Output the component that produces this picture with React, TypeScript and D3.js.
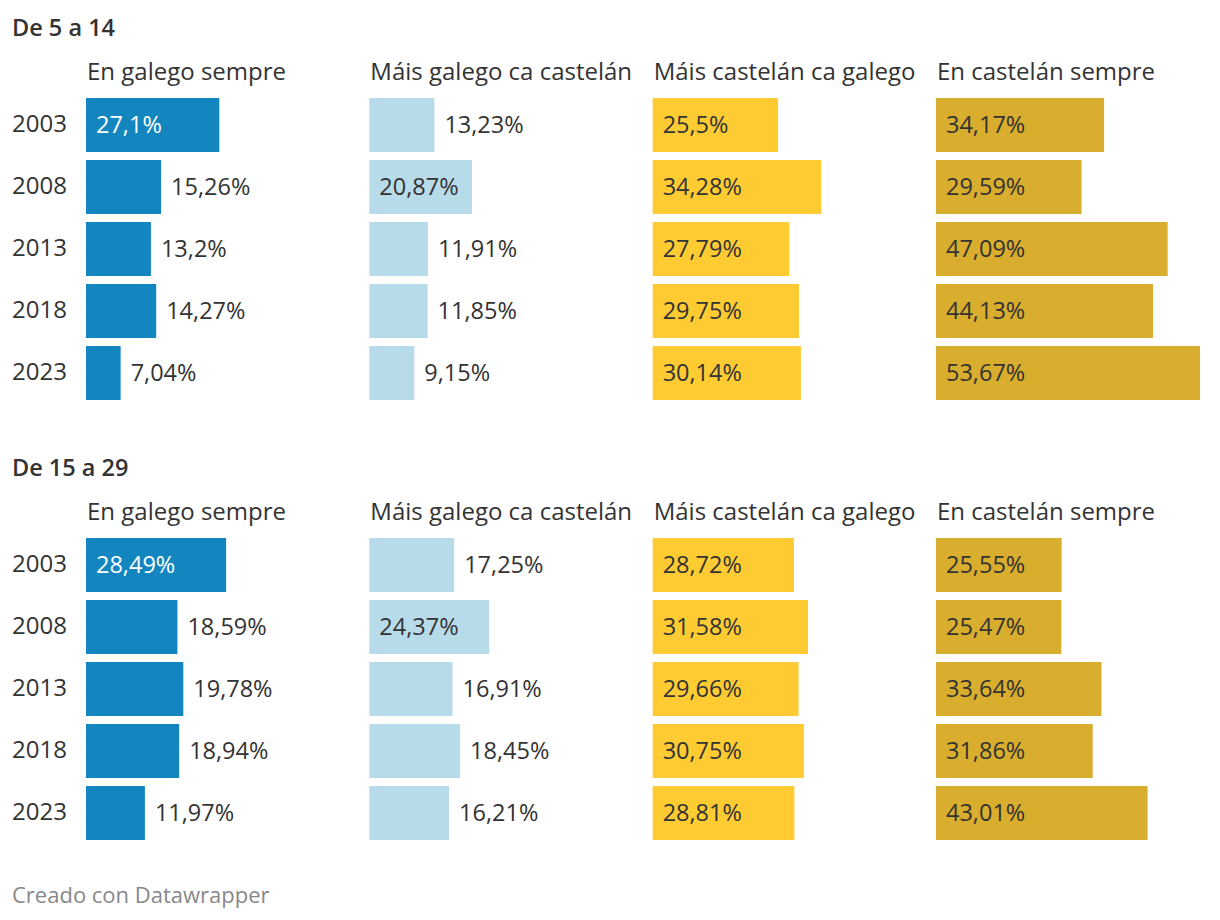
import React from 'react';
import * as d3 from 'd3';

const years = ['2003', '2008', '2013', '2018', '2023'];
const categories = ['En galego sempre', 'Máis galego ca castelán', 'Máis castelán ca galego', 'En castelán sempre'];
const groups = ['De 5 a 14', 'De 15 a 29'];

// values per group, per category, per year
const young = [
    [27.1, 15.26, 13.2, 14.27, 7.04],
    [13.23, 20.87, 11.91, 11.85, 9.15],
    [25.5, 34.28, 27.79, 29.75, 30.14],
    [34.17, 29.59, 47.09, 44.13, 53.67],
];
const older = [
    [28.49, 18.59, 19.78, 18.94, 11.97],
    [17.25, 24.37, 16.91, 18.45, 16.21],
    [28.72, 31.58, 29.66, 30.75, 28.81],
    [25.55, 25.47, 33.64, 31.86, 43.01],
];
const groupValues = [young, older];

const colors = ['#1386c0', '#b8dbea', '#fecb33', '#d9ad2d'];
const labelInsideColor = ['#ffffff', '#333333', '#333333', '#333333'];

const W = 1220;
const H = 920;
const FONT = '"Open Sans", "Noto Sans", sans-serif';

const fmt = (v: number) => String(v).replace('.', ',') + '%';

const App: React.FC = () => {
    const x = d3.scaleLinear().domain([0, 53.67]).range([0, 264]);
    const colX = d3.scaleLinear().domain([0, 3]).range([86, 936]);
    const y = d3.scaleBand<string>().domain(years).range([0, 302]).paddingInner(8 / 62).paddingOuter(0);

    const panelTop = [0, 440];

    return (
        <svg width={W} height={H} style={{position: 'absolute', left: 0, top: 0, background: '#fff'}}
             fontFamily={FONT}>
            {groups.map((g, gi) => {
                const top = panelTop[gi];
                return (
                    <g key={g} transform={`translate(0, ${top})`}>
                        <text x={12} y={36} fontSize={23.5} fontWeight={600} fill="#333">{g}</text>
                        {years.map(yr => (
                            <text key={yr} x={12} y={98 + (y(yr) ?? 0) + y.bandwidth() / 2} dy="0.3em"
                                  fontSize={24} fill="#333">{yr}</text>
                        ))}
                        {categories.map((c, ci) => (
                            <g key={c} transform={`translate(${colX(ci)}, 0)`}>
                                <text x={1} y={80} fontSize={24} fill="#333">{c}</text>
                                {groupValues[gi][ci].map((v, yi) => {
                                    const w = x(v);
                                    const yy = 98 + (y(years[yi]) ?? 0);
                                    const inside = w > 98;
                                    return (
                                        <g key={yi}>
                                            <rect x={0} y={yy} width={w} height={y.bandwidth()} fill={colors[ci]}/>
                                            <text x={inside ? 10 : w + 10} y={yy + y.bandwidth() / 2} dy="0.36em"
                                                  fontSize={23.5}
                                                  fill={inside ? labelInsideColor[ci] : '#333'}>{fmt(v)}</text>
                                        </g>
                                    );
                                })}
                            </g>
                        ))}
                    </g>
                );
            })}
            <text x={12} y={903} fontSize={22} fill="#888">Creado con Datawrapper</text>
        </svg>
    );
};

export default App;
